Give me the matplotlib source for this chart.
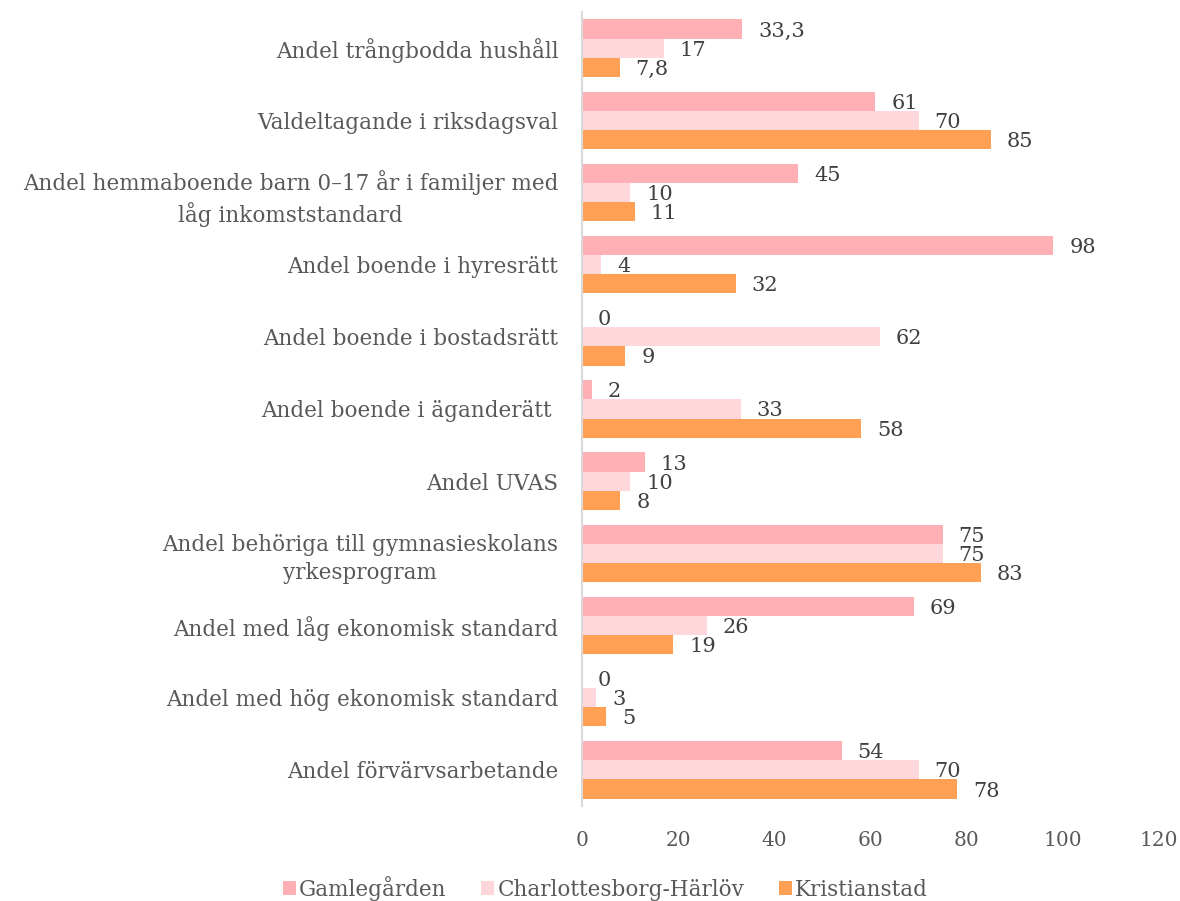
import matplotlib
matplotlib.use("Agg")
import matplotlib.pyplot as plt
import numpy as np

categories = [
    "Andel trångbodda hushåll",
    "Valdeltagande i riksdagsval",
    "Andel hemmaboende barn 0–17 år i familjer med\nlåg inkomststandard",
    "Andel boende i hyresrätt",
    "Andel boende i bostadsrätt",
    "Andel boende i äganderätt ",
    "Andel UVAS",
    "Andel behöriga till gymnasieskolans\nyrkesprogram",
    "Andel med låg ekonomisk standard",
    "Andel med hög ekonomisk standard",
    "Andel förvärvsarbetande",
]
gamlegarden = [33.3, 61, 45, 98, 0, 2, 13, 75, 69, 0, 54]
charlottesborg = [17, 70, 10, 4, 62, 33, 10, 75, 26, 3, 70]
kristianstad = [7.8, 85, 11, 32, 9, 58, 8, 83, 19, 5, 78]
series_names = ["Gamlegården", "Charlottesborg-Härlöv", "Kristianstad"]
colors = ["#FFB0B5", "#FFD7DA", "#FFA055"]
xticks = [0, 20, 40, 60, 80, 100, 120]

plt.rcParams['font.family'] = ['DejaVu Serif']
TXT = "#595959"
FS_CAT = 15.5
FS_NUM = 15

fig = plt.figure(figsize=(11.8, 9.01), dpi=100)
ax = fig.add_axes([582/1180, 1-806/901, (1159-582)/1180, (806-12)/901])

y = np.arange(len(categories))
h = 0.265
series = [gamlegarden, charlottesborg, kristianstad]
for i, (vals, name, c) in enumerate(zip(series, series_names, colors)):
    bars = ax.barh(y + (i - 1) * h, vals, height=h, color=c, label=name)
    for b, v in zip(bars, vals):
        lab = (f"{v:g}").replace(".", ",")
        ax.annotate(lab, (b.get_width(), b.get_y() + b.get_height() / 2),
                    xytext=(16, -2), textcoords="offset pixels",
                    ha="left", va="center", fontsize=FS_NUM, color="#404040")

ax.set_ylim(len(categories) - 0.5, -0.5)
ax.set_xlim(0, 120)
ax.set_xticks(xticks)
ax.set_xticklabels([str(t) for t in xticks])
ax.set_yticks(y)
ax.set_yticklabels(categories, ha="right", multialignment="center", linespacing=1.35)
ax.tick_params(axis="both", length=0, labelcolor=TXT)
ax.tick_params(axis="x", pad=18, labelsize=14.5)
ax.tick_params(axis="y", pad=17, labelsize=FS_CAT)
for s in ["top", "right", "bottom"]:
    ax.spines[s].set_visible(False)
ax.spines["left"].set_color("#D9D9D9")
ax.spines["left"].set_linewidth(1.5)

leg = fig.legend(loc="lower center", bbox_to_anchor=(0.513, -0.021), ncol=3, frameon=False,
                 fontsize=FS_CAT, handlelength=0.6, handleheight=0.6, handletextpad=0.15,
                 columnspacing=1.6)
for t in leg.get_texts():
    t.set_color(TXT)

fig.savefig("out.png", dpi=100)
